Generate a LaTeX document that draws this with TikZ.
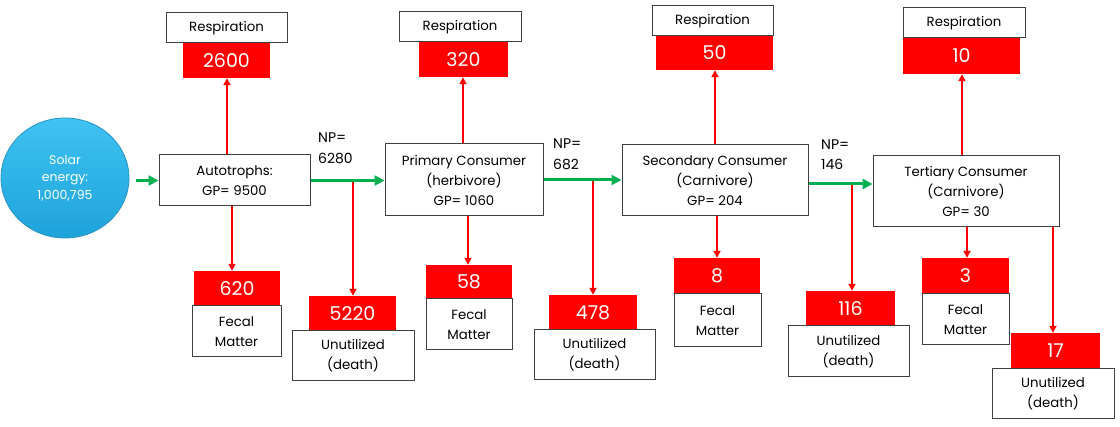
\documentclass[tikz,border=0pt]{standalone}
\usepackage{fontspec}
\setmainfont{Poppins}
\usetikzlibrary{arrows.meta,shapes.geometric}
\definecolor{boxline}{HTML}{404040}
\definecolor{flowred}{HTML}{FF0000}
\definecolor{flowgreen}{HTML}{00B050}
\definecolor{suntop}{HTML}{3EC3F2}
\definecolor{sunbottom}{HTML}{1EA2DA}
\definecolor{sunedge}{HTML}{2A94C4}
\begin{document}
\begin{tikzpicture}[x=1pt,y=-1pt,
  wbox/.style={draw=boxline,line width=1pt,fill=white,inner sep=0pt,align=center,font=\fontsize{13.3}{20}\selectfont},
  rbox/.style={fill=flowred,inner sep=0pt,text=white,font=\fontsize{19}{20}\selectfont},
  redarrow/.style={draw=flowred,line width=2.3pt,-{Triangle[length=7pt,width=7pt]}},
  greenarrow/.style={draw=flowgreen,line width=3pt,-{Triangle[length=10pt,width=10pt]}},
  nplabel/.style={align=left,anchor=west,inner sep=0pt,font=\fontsize{14}{20.5}\selectfont}
]
\useasboundingbox (0,0) rectangle (1120,427);

% Solar energy
\node[ellipse,draw=sunedge,line width=0.8pt,top color=suntop,bottom color=sunbottom,
      minimum width=128pt,minimum height=120pt,inner sep=0pt,text=white,align=center,
      font=\fontsize{12.5}{17.5}\selectfont] (solar) at (65,178) {Solar\\energy:\\1,000,795};

% red value boxes (drawn first so white boxes sit over their edges)
\node[rbox,minimum width=87pt,minimum height=35pt] (r1n) at (226.5,60.5) {2600};
\node[rbox,minimum width=89pt,minimum height=35pt] (r2n) at (463.5,59.5) {320};
\node[rbox,minimum width=117pt,minimum height=34pt] (r3n) at (714.5,53) {50};
\node[rbox,minimum width=117pt,minimum height=36pt] (r4n) at (961.5,56) {10};
\node[rbox,minimum width=86pt,minimum height=35pt] (f1n) at (237,288.5) {620};
\node[rbox,minimum width=86pt,minimum height=34pt] (f2n) at (469,282) {58};
\node[rbox,minimum width=86pt,minimum height=36pt] (f3n) at (717,276) {8};
\node[rbox,minimum width=87pt,minimum height=36pt] (f4n) at (965.5,276) {3};
\node[rbox,minimum width=87pt,minimum height=35pt] (u1n) at (352.5,313.5) {5220};
\node[rbox,minimum width=88pt,minimum height=35pt] (u2n) at (593,312.5) {478};
\node[rbox,minimum width=89pt,minimum height=35pt] (u3n) at (850.5,308.5) {116};
\node[rbox,minimum width=89pt,minimum height=36pt] (u4n) at (1055.5,351) {17};

% Respiration boxes
\node[wbox,minimum width=121pt,minimum height=30pt] (r1) at (226.5,28) {Respiration};
\node[wbox,minimum width=122pt,minimum height=30pt] (r2) at (460,27) {Respiration};
\node[wbox,minimum width=121pt,minimum height=30pt] (r3) at (712.5,21) {Respiration};
\node[wbox,minimum width=122pt,minimum height=30pt] (r4) at (964,23) {Respiration};

% trophic level boxes
\node[wbox,minimum width=151pt,minimum height=51pt] (A) at (234.5,180.5) {Autotrophs:\\GP= 9500};
\node[wbox,minimum width=158pt,minimum height=72pt] (P) at (464,180) {Primary Consumer\\(herbivore)\\GP= 1060};
\node[wbox,minimum width=186pt,minimum height=71pt] (S) at (715,180.5) {Secondary Consumer\\(Carnivore)\\GP= 204};
\node[wbox,minimum width=186pt,minimum height=71pt] (T) at (966,191.5) {Tertiary Consumer\\(Carnivore)\\GP= 30};

% fecal matter boxes
\node[wbox,minimum width=89pt,minimum height=51pt] (f1) at (236.5,331.5) {Fecal\\Matter};
\node[wbox,minimum width=86pt,minimum height=51pt] (f2) at (469,324.5) {Fecal\\Matter};
\node[wbox,minimum width=87pt,minimum height=53pt] (f3) at (717.5,320.5) {Fecal\\Matter};
\node[wbox,minimum width=87pt,minimum height=51pt] (f4) at (965.5,319.5) {Fecal\\Matter};

% unutilized boxes
\node[wbox,minimum width=122pt,minimum height=50pt] (u1) at (353,356) {Unutilized\\(death)};
\node[wbox,minimum width=121pt,minimum height=50pt] (u2) at (594.5,355) {Unutilized\\(death)};
\node[wbox,minimum width=121pt,minimum height=51pt] (u3) at (848.5,351.5) {Unutilized\\(death)};
\node[wbox,minimum width=122pt,minimum height=50pt] (u4) at (1053,394) {Unutilized\\(death)};

% NP labels
\node[nplabel] (np1) at (318,148.5) {NP=\\6280};
\node[nplabel] (np2) at (553,154.5) {NP=\\682};
\node[nplabel] (np3) at (821,154.5) {NP=\\146};

% helper coordinates for connector columns
\coordinate (xu1) at (227,0);
\coordinate (xf1) at (232,0);
\coordinate (xu2) at (463,0);
\coordinate (xf2) at (468,0);
\coordinate (xu3) at (715,0);
\coordinate (xf3) at (717,0);
\coordinate (xu4) at (962,0);
\coordinate (xf4) at (967,0);
\coordinate (xd4) at (1053,0);
\coordinate (d1) at (353,180);
\coordinate (d2) at (593,180);
\coordinate (d3) at (852,184);
\coordinate (g3) at (0,184);

% respiration arrows
\draw[redarrow] (A.north -| xu1) -- (r1n.south -| xu1);
\draw[redarrow] (P.north -| xu2) -- (r2n.south -| xu2);
\draw[redarrow] (S.north -| xu3) -- (r3n.south -| xu3);
\draw[redarrow] (T.north -| xu4) -- (r4n.south -| xu4);

% fecal arrows
\draw[redarrow] (A.south -| xf1) -- (f1n.north -| xf1);
\draw[redarrow] (P.south -| xf2) -- (f2n.north -| xf2);
\draw[redarrow] (S.south -| xf3) -- (f3n.north -| xf3);
\draw[redarrow] (T.south -| xf4) -- (f4n.north -| xf4);

% unutilized arrows
\draw[redarrow] (d1) -- (u1n.north -| d1);
\draw[redarrow] (d2) -- (u2n.north -| d2);
\draw[redarrow] (d3) -- (u3n.north -| d3);
\draw[redarrow] (T.south -| xd4) -- (u4n.north -| xd4);

% energy flow arrows
\draw[greenarrow,shorten <=7pt] (solar.east |- A.west) -- (A.west);
\draw[greenarrow] (A.east) -- (P.west |- A.east);
\draw[greenarrow] (P.east) -- (S.west |- P.east);
\draw[greenarrow] (S.east |- g3) -- (T.west |- g3);
\end{tikzpicture}
\end{document}
